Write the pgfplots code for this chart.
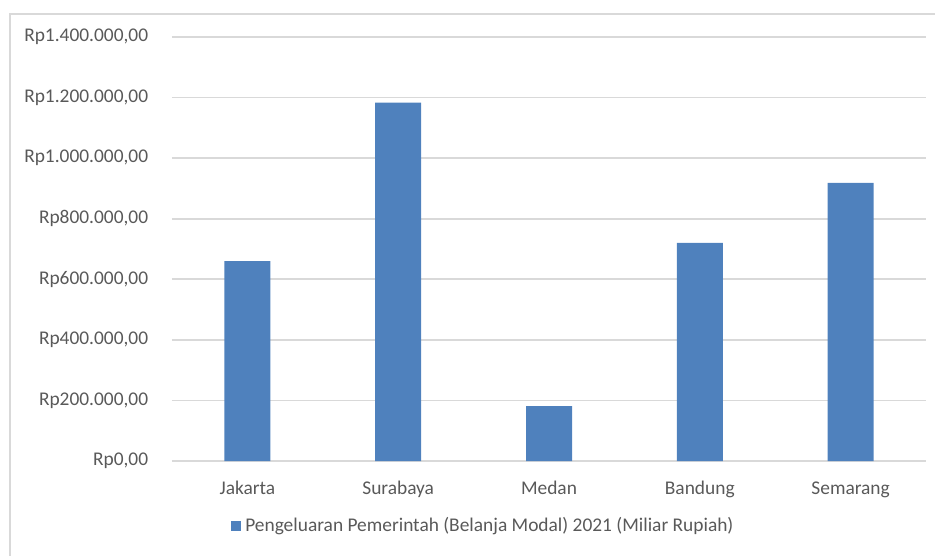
\documentclass[border=0pt]{standalone}
\usepackage{pgfplots}
\pgfplotsset{compat=1.18}
\usepackage{fontspec}
\setmainfont{Carlito}
\definecolor{barblue}{HTML}{4F81BD}
\definecolor{gridgray}{HTML}{D9D9D9}
\definecolor{textgray}{HTML}{595959}
\begin{document}
\fontsize{9.7}{11.5}\selectfont
\begin{tikzpicture}
\path[use as bounding box] (0pt,0pt) rectangle (467.5pt,278pt);
\draw[gridgray,line width=0.8pt] (4.5pt,271pt) -- (467.5pt,271pt);
\draw[gridgray,line width=0.8pt] (5pt,271pt) -- (5pt,0pt);
\begin{axis}[
  at={(86pt,47.5pt)}, anchor=south west,
  scale only axis,
  width=377pt, height=212pt,
  xmin=-0.5, xmax=4.5,
  ymin=0, ymax=1400000,
  ybar, bar width=23pt,
  axis x line*=bottom,
  axis y line*=left,
  x axis line style={draw=gridgray,line width=0.8pt,-},
  y axis line style={draw=none},
  scaled y ticks=false,
  ytick={0,200000,400000,600000,800000,1000000,1200000,1400000},
  yticklabels={Rp0{,}00,Rp200.000{,}00,Rp400.000{,}00,Rp600.000{,}00,Rp800.000{,}00,Rp1.000.000{,}00,Rp1.200.000{,}00,Rp1.400.000{,}00},
  xtick=data,
  xticklabels={Jakarta,Surabaya,Medan,Bandung,Semarang},
  ymajorgrids, grid style={gridgray,line width=0.8pt},
  major tick length=0pt,
  tick label style={text=textgray,font=\fontsize{9.7}{11.5}\selectfont},
  yticklabel style={xshift=-8.5pt},
  xticklabel style={yshift=-6.5pt,text height=1.5ex,text depth=0.3ex},
  legend style={at={(0.414,-0.153)},anchor=center,draw=none,fill=none,
     font=\fontsize{9.7}{11.5}\selectfont,text=textgray,
     legend cell align=left, inner sep=0pt},
  legend image code/.code={\fill[barblue] (0pt,-2.6pt) rectangle (5.2pt,2.6pt);},
]
\addplot[fill=barblue,draw=none] coordinates {(0,660000) (1,1183000) (2,181000) (3,720000) (4,918000)};
\addlegendentry{Pengeluaran Pemerintah (Belanja Modal) 2021 (Miliar Rupiah)}
\end{axis}
\end{tikzpicture}
\end{document}
